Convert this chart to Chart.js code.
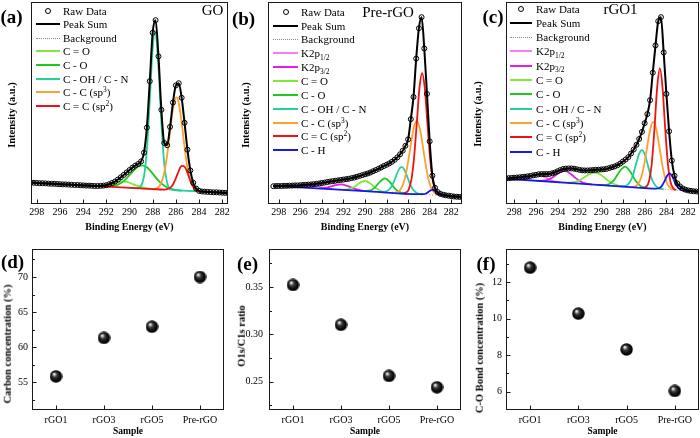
<!DOCTYPE html>
<html><head><meta charset="utf-8">
<script src="https://cdn.jsdelivr.net/npm/chart.js@4.4.1/dist/chart.umd.min.js"></script>
<style>
html,body{margin:0;padding:0;background:#fff;}
#fig{position:relative;width:700px;height:438px;overflow:hidden;background:#fff;font-family:'Liberation Serif','Times New Roman',serif;color:#000;}
canvas{position:absolute;}
.t{position:absolute;white-space:nowrap;line-height:1;transform:translate(-50%,-50%);}
.rot{transform:translate(-50%,-50%) rotate(-90deg);font-weight:bold;font-size:10.5px;}
.lab{font-weight:bold;font-size:19px;}
.ttl{font-size:15px;}
.leg{position:absolute;white-space:nowrap;font-size:11px;height:14px;line-height:14px;}
.leg .s{display:inline-block;position:relative;height:14px;vertical-align:top;}
.leg sub,.leg sup{font-size:7.5px;vertical-align:baseline;position:relative;line-height:0;}
.leg sub{top:2.5px;}
.leg sup{top:-4px;}
</style></head>
<body><div id="fig"></div>
<script>
// ---------------- DATA ----------------
const gridEnergy = [298.5,298.25,298,297.75,297.5,297.25,297,296.75,296.5,296.25,296,295.75,295.5,295.25,295,294.75,294.5,294.25,294,293.75,293.5,293.25,293,292.75,292.5,292.25,292,291.75,291.5,291.25,291,290.75,290.5,290.25,290,289.75,289.5,289.25,289,288.75,288.5,288.25,288,287.75,287.5,287.25,287,286.75,286.5,286.25,286,285.75,285.5,285.25,285,284.75,284.5,284.25,284,283.75,283.5,283.25,283,282.75,282.5,282.25,282,281.75,281.5,281.25,281];
const gridEnergyC = [298.75].concat(gridEnergy);

// (a) GO
const goRaw = [0.106,0.105,0.104,0.103,0.103,0.102,0.101,0.100,0.100,0.099,0.098,0.097,0.097,0.096,0.095,0.094,0.094,0.093,0.092,0.091,0.091,0.090,0.089,0.089,0.090,0.091,0.093,0.098,0.104,0.111,0.121,0.132,0.144,0.156,0.168,0.180,0.190,0.198,0.211,0.254,0.378,0.608,0.848,0.910,0.731,0.466,0.302,0.291,0.382,0.502,0.587,0.598,0.526,0.402,0.269,0.166,0.105,0.076,0.065,0.062,0.061,0.060,0.059,0.058,0.058,0.057,0.056,0.055,0.055,0.054,0.053];
const goBg = [[298.5,0.1055],[281,0.053]];
const goCdO = [[294,0.092],[293,0.0894],[292.5,0.0894],[292,0.0923],[291.5,0.0995],[291,0.1082],[290.75,0.111],[290.5,0.1115],[290.25,0.1095],[290,0.1052],[289.5,0.0935],[289,0.0833],[288.5,0.0774],[288,0.0744]];
const goCO = [[293,0.089],[292.5,0.0877],[292,0.0869],[291.5,0.0885],[291,0.0957],[290.5,0.1135],[290,0.1427],[289.5,0.1746],[289.25,0.186],[288.9,0.1917],[288.5,0.1816],[288.25,0.168],[288,0.1507],[287.5,0.1157],[287,0.0899],[286.5,0.0759],[286,0.0695],[285.5,0.0666]];
const goCOH = [[290,0.080],[289.5,0.0788],[289.25,0.0798],[289,0.0902],[288.75,0.1367],[288.5,0.27],[288.25,0.5142],[288,0.7705],[287.8,0.8534],[287.5,0.6768],[287.25,0.4028],[287,0.1981],[286.75,0.1046],[286.5,0.076],[286.25,0.0697],[286,0.068],[285,0.065],[284,0.062]];
const goCC = [[288,0.0747],[287.75,0.0764],[287.5,0.0839],[287.25,0.1059],[287,0.1553],[286.75,0.2421],[286.5,0.3585],[286.25,0.4694],[285.95,0.5279],[285.75,0.4998],[285.5,0.4035],[285.25,0.2822],[285,0.1797],[284.75,0.1145],[284.5,0.0816],[284.25,0.0682],[284,0.0633],[283.75,0.0616],[283,0.059]];
const goCdC = [[298.5,0.1055],[292,0.086],[288,0.074],[287,0.0716],[286.75,0.0731],[286.5,0.0796],[286.25,0.0966],[286,0.1271],[285.75,0.1642],[285.5,0.1889],[285.25,0.1851],[285,0.1546],[284.75,0.1162],[284.5,0.0866],[284.25,0.0708],[284,0.0641],[283.75,0.0617],[283,0.059],[281,0.053]];

// (b) Pre-rGO
const preRaw = [0.088,0.089,0.089,0.089,0.090,0.090,0.091,0.091,0.092,0.092,0.093,0.094,0.095,0.096,0.097,0.098,0.100,0.102,0.104,0.106,0.109,0.111,0.113,0.115,0.117,0.119,0.121,0.123,0.125,0.128,0.131,0.135,0.139,0.143,0.147,0.151,0.156,0.162,0.168,0.174,0.181,0.188,0.194,0.201,0.209,0.219,0.231,0.246,0.264,0.288,0.320,0.420,0.530,0.720,0.870,0.925,0.770,0.545,0.310,0.140,0.080,0.059,0.050,0.046,0.043,0.041,0.039,0.037,0.036,0.035,0.035];
const preBg = [[298.5,0.0903],[281,0.036]];
const preK12 = [[297,0.0861],[296.5,0.0862],[296,0.088],[295.5,0.0909],[295,0.0914],[294.5,0.0878],[294,0.0818],[293.5,0.0769],[293,0.0737]];
const preK32 = [[294.2,0.078],[293.7,0.0799],[293.2,0.0857],[292.7,0.0937],[292.2,0.0967],[291.7,0.0906],[291.2,0.0795],[290.7,0.0706],[290.2,0.0656]];
const preCdO = [[292,0.0709],[291.5,0.0736],[291,0.085],[290.5,0.1042],[290,0.1139],[289.5,0.1011],[289,0.0788],[288.5,0.0643],[288,0.0585]];
const preCO = [[290.15,0.0647],[289.65,0.0658],[289.15,0.0785],[288.65,0.1085],[288.15,0.1272],[287.65,0.1054],[287.15,0.0723],[286.65,0.0565],[286.15,0.0523]];
const preCOH = [[288.6,0.0598],[288.1,0.0612],[287.6,0.0814],[287.35,0.107],[287.1,0.1409],[286.85,0.1715],[286.6,0.1834],[286.35,0.1699],[286.1,0.1378],[285.85,0.1024],[285.6,0.0752],[285.1,0.0519],[284.6,0.0474]];
const preCC = [[287.2,0.0572],[286.95,0.0611],[286.7,0.0731],[286.45,0.1003],[286.2,0.1506],[285.95,0.2255],[285.7,0.312],[285.45,0.3836],[285.2,0.4111],[284.95,0.3821],[284.7,0.3089],[284.45,0.2208],[284.2,0.1445],[283.95,0.0925],[283.7,0.0638],[283.45,0.0503],[283.2,0.0448]];
const preCdC = [[286.45,0.0537],[286.2,0.0566],[285.95,0.0716],[285.7,0.119],[285.45,0.2276],[285.2,0.3977],[284.95,0.5721],[284.7,0.6475],[284.45,0.5705],[284.2,0.3946],[283.95,0.2221],[283.7,0.1128],[283.45,0.0638],[283.2,0.0473],[282.95,0.0428]];
const preCH = [[298.5,0.0903],[290,0.0639],[285,0.0484],[284.5,0.0494],[284.25,0.0551],[284,0.0647],[283.75,0.0696],[283.5,0.0632],[283.25,0.052],[283,0.0447],[282.5,0.0407],[281,0.036]];

// (c) rGO1
const rgoRaw = [0.126,0.128,0.129,0.130,0.131,0.132,0.134,0.135,0.137,0.139,0.142,0.144,0.147,0.148,0.148,0.148,0.149,0.152,0.156,0.162,0.168,0.173,0.175,0.176,0.176,0.175,0.172,0.169,0.167,0.166,0.166,0.167,0.168,0.169,0.170,0.171,0.172,0.174,0.178,0.182,0.186,0.192,0.200,0.210,0.220,0.232,0.250,0.270,0.293,0.322,0.357,0.400,0.445,0.514,0.650,0.785,0.905,0.925,0.750,0.545,0.360,0.215,0.140,0.102,0.087,0.077,0.071,0.067,0.065,0.063,0.062,0.061];
const rgoBg = [[298.75,0.1249],[281,0.061]];
const rgoK12 = [[297.8,0.122],[297.3,0.1227],[296.8,0.1287],[296.3,0.1394],[295.8,0.1443],[295.3,0.1358],[294.8,0.1215],[294.3,0.1119],[293.8,0.1076]];
const rgoK32 = [[295.85,0.1149],[295.35,0.1153],[294.85,0.1209],[294.35,0.1357],[293.85,0.155],[293.35,0.1635],[292.85,0.1514],[292.35,0.1285],[291.85,0.1101],[291.35,0.1009],[290.85,0.0969]];
const rgoCdO = [[293.05,0.1057],[292.55,0.1077],[292.05,0.1158],[291.55,0.1314],[291.05,0.1486],[290.55,0.1554],[290.05,0.145],[289.55,0.1242],[289.05,0.105],[288.55,0.0933],[288.05,0.0877]];
const rgoCO = [[290.3,0.0946],[289.8,0.0936],[289.3,0.0979],[288.8,0.1197],[288.3,0.1617],[287.8,0.1855],[287.3,0.1581],[286.8,0.1125],[286.3,0.0871],[285.8,0.0792]];
const rgoCOH = [[288.25,0.0874],[287.75,0.0898],[287.25,0.1193],[287,0.1564],[286.75,0.2054],[286.5,0.2495],[286.25,0.2669],[286,0.2477],[285.75,0.2018],[285.5,0.151],[285.25,0.1121],[284.75,0.079],[284.25,0.073]];
const rgoCC = [[287.2,0.0842],[286.95,0.0859],[286.7,0.0931],[286.45,0.1129],[286.2,0.1543],[285.95,0.2217],[285.7,0.3056],[285.45,0.3776],[285.2,0.4061],[284.95,0.3758],[284.7,0.302],[284.45,0.2163],[284.2,0.1471],[283.95,0.1039],[283.7,0.0823],[283.45,0.0733],[283.2,0.0698]];
const rgoCdC = [[286.1,0.0804],[285.85,0.0856],[285.6,0.1127],[285.35,0.1979],[285.1,0.3697],[284.85,0.5752],[284.6,0.671],[284.35,0.5734],[284.1,0.3661],[283.85,0.1925],[283.6,0.1055],[283.35,0.0766],[283.1,0.0696]];
const rgoCH = [[298.75,0.1249],[292,0.1006],[286,0.079],[284.95,0.0758],[284.7,0.0779],[284.45,0.0873],[284.2,0.1096],[283.95,0.1383],[283.7,0.1517],[283.45,0.1365],[283.2,0.106],[282.95,0.0819],[282.7,0.0707],[282.45,0.0668],[281,0.061]];

// tick labels
const xpsTicks = [298,296,294,292,290,288,286,284,282];
const xpsTickLabels = ['298','296','294','292','290','288','286','284','282'];

// (d)(e)(f)
const samples = ['rGO1','rGO3','rGO5','Pre-rGO'];
const carbonConc = [55.8, 61.3, 62.9, 70.0];
const o1sC1sRatio = [0.352, 0.310, 0.256, 0.244];
const coBondConc = [12.78, 10.27, 8.31, 6.04];
const dTicks = [52.5,55,57.5,60,62.5,65,67.5,70,72.5];
const dTickLabels = ['','55','','60','','65','','70',''];
const eTicks = [0.225,0.25,0.275,0.30,0.325,0.35,0.375];
const eTickLabels = ['','0.25','','0.30','','0.35',''];
const fTicks = [6,7,8,9,10,11,12,13];
const fTickLabels = ['6','','8','','10','','12',''];

// ---------------- STYLE / BUILD ----------------
const COL = {lime:'#7ee83c', green:'#1ec81e', teal:'#22d09e', orange:'#ffa030', red:'#f01212', blue:'#1818e8', pink:'#f47ff0', magenta:'#e41ee4'};
Chart.defaults.font.family = "'Liberation Serif','Times New Roman',serif";
Chart.defaults.color = '#000';
Chart.defaults.font.size = 10;

const fig = document.getElementById('fig');
function mkCanvas(left, top, w, h) {
  const c = document.createElement('canvas');
  c.width = w; c.height = h;
  c.style.left = left + 'px'; c.style.top = top + 'px';
  c.style.width = w + 'px'; c.style.height = h + 'px';
  fig.appendChild(c);
  return c;
}
function addText(cls, html, cx, cy) {
  const d = document.createElement('div');
  d.className = 't ' + cls; d.innerHTML = html;
  d.style.left = cx + 'px'; d.style.top = cy + 'px';
  fig.appendChild(d);
}
const pairs = arr => arr.map(p => ({x: p[0], y: p[1]}));
const toXY = (xs, ys) => xs.map((x, i) => ({x: x, y: ys[i]}));

const frameTicks = {
  id: 'frameTicks',
  afterDraw(chart) {
    const {ctx, chartArea: a} = chart;
    ctx.save();
    ctx.strokeStyle = '#1a1a1a';
    ctx.lineWidth = 1;
    const L = Math.round(a.left) + 0.5, T = Math.round(a.top) + 0.5, R = Math.round(a.right) - 0.5, B = Math.round(a.bottom) - 0.5;
    ctx.strokeRect(L, T, R - L, B - T);
    ctx.beginPath();
    const xs = chart.scales.x;
    xs.ticks.forEach((t, i) => {
      const p = Math.round(xs.getPixelForTick(i)) + 0.5;
      ctx.moveTo(p, B); ctx.lineTo(p, B - 4);
    });
    const ys = chart.scales.y;
    if (ys.options.display) {
      ys.ticks.forEach((t, i) => {
        const p = Math.round(ys.getPixelForTick(i)) + 0.5;
        const len = t.label ? 4 : 2.5;
        ctx.moveTo(L, p); ctx.lineTo(L + len, p);
      });
    }
    ctx.stroke();
    ctx.restore();
  }
};

function buildLegend(lg, entries) {
  entries.forEach((e, i) => {
    const row = document.createElement('div');
    row.className = 'leg';
    row.style.left = lg.left + 'px';
    row.style.top = (lg.y0 + i * lg.dy - 7) + 'px';
    const s = document.createElement('span');
    s.className = 's';
    s.style.width = lg.w + 'px';
    const m = document.createElement('span');
    m.style.position = 'absolute';
    if (e.kind === 'raw') {
      m.style.left = (lg.w / 2 - 3) + 'px'; m.style.top = '4px';
      m.style.width = '4px'; m.style.height = '4px';
      m.style.border = '1.2px solid #000'; m.style.borderRadius = '50%';
    } else if (e.kind === 'dot') {
      m.style.left = '0px'; m.style.top = '7px'; m.style.width = lg.w + 'px';
      m.style.borderTop = '1px dotted #8a8a8a';
    } else {
      m.style.left = '0px'; m.style.top = '6px'; m.style.width = lg.w + 'px';
      m.style.height = '2px'; m.style.background = e.color;
    }
    s.appendChild(m);
    row.appendChild(s);
    const tx = document.createElement('span');
    tx.style.marginLeft = lg.gap + 'px';
    tx.innerHTML = e.name;
    row.appendChild(tx);
    fig.appendChild(row);
  });
}

function xpsChart(cfg) {
  const canvas = mkCanvas(cfg.left, 0, cfg.width, 233);
  const datasets = [];
  datasets.push({label: 'Raw Data', data: toXY(cfg.energy, cfg.raw), showLine: false, pointRadius: 2.5, pointBorderWidth: 1, pointBorderColor: '#000', pointBackgroundColor: 'rgba(0,0,0,0)', order: 0});
  datasets.push({label: 'Peak Sum', data: toXY(cfg.energy, cfg.raw), showLine: true, borderColor: '#000', borderWidth: 2, pointRadius: 0, tension: 0.4, cubicInterpolationMode: 'monotone', order: 1});
  datasets.push({label: 'Background', data: pairs(cfg.bg), showLine: true, borderColor: '#8a8a8a', borderWidth: 1, borderDash: [1, 2], pointRadius: 0, order: 99});
  const n = cfg.comps.length;
  cfg.comps.forEach((c, k) => datasets.push({label: c.name.replace(/<[^>]+>/g, ''), data: pairs(c.data), showLine: true, borderColor: c.color, borderWidth: 1.8, pointRadius: 0, tension: 0.4, cubicInterpolationMode: 'monotone', order: 2 + (n - 1 - k)}));
  new Chart(canvas, {
    type: 'scatter',
    data: {datasets},
    plugins: [frameTicks],
    options: {
      responsive: false, animation: false, devicePixelRatio: 1,
      layout: {padding: cfg.pad, autoPadding: false},
      plugins: {legend: {display: false}, tooltip: {enabled: false}},
      scales: {
        x: {type: 'linear', reverse: true, min: cfg.range[0], max: cfg.range[1],
            grid: {display: false, drawTicks: false}, border: {display: false},
            afterBuildTicks: s => { s.ticks = xpsTicks.map(v => ({value: v})); },
            ticks: {autoSkip: false, maxRotation: 0, padding: 2.5, font: {size: 10}, callback: (v, i) => xpsTickLabels[i]},
            title: {display: true, text: 'Binding Energy (eV)', font: {size: 10, weight: 'bold'}, padding: 0},
            afterFit: s => { s.height = 29; s.paddingLeft = 0; s.paddingRight = 0; }},
        y: {display: false, min: 0, max: 1}
      }
    }
  });
  const entries = [{kind: 'raw', name: 'Raw Data'}, {kind: 'line', color: '#000', name: 'Peak Sum'}, {kind: 'dot', name: 'Background'}]
    .concat(cfg.comps.map(c => ({kind: 'line', color: c.color, name: c.name})));
  buildLegend(cfg.legend, entries);
}

function makeSphere(d) {
  const c = document.createElement('canvas'); c.width = d; c.height = d;
  const g = c.getContext('2d');
  const r = d / 2;
  const grad = g.createRadialGradient(r * 0.68, r * 0.6, 0.2, r, r, r);
  grad.addColorStop(0, '#ffffff');
  grad.addColorStop(0.13, '#c4c4c4');
  grad.addColorStop(0.36, '#3a3a3a');
  grad.addColorStop(0.72, '#0b0b0b');
  grad.addColorStop(1, '#000000');
  g.fillStyle = grad;
  g.beginPath(); g.arc(r, r, r - 0.3, 0, Math.PI * 2); g.fill();
  return c;
}
const sphere = makeSphere(13);

function sampleChart(cfg) {
  const canvas = mkCanvas(cfg.left, 240, cfg.width, 197);
  new Chart(canvas, {
    type: 'line',
    data: {labels: samples, datasets: [{label: cfg.label, data: cfg.values, showLine: false, pointStyle: sphere, pointRadius: 6.5, order: 0}]},
    plugins: [frameTicks],
    options: {
      responsive: false, animation: false, devicePixelRatio: 1,
      layout: {padding: {left: 0, right: cfg.padR, top: 9, bottom: 0}, autoPadding: false},
      plugins: {legend: {display: false}, tooltip: {enabled: false}},
      scales: {
        x: {type: 'category', offset: true, grid: {display: false, drawTicks: false}, border: {display: false},
            ticks: {padding: 4, font: {size: 10}, maxRotation: 0, autoSkip: false},
            title: {display: true, text: 'Sample', font: {size: 9.5, weight: 'bold'}, padding: 0},
            afterFit: s => { s.height = 27; s.paddingLeft = 0; s.paddingRight = 0; }},
        y: {min: cfg.min, max: cfg.max, grid: {display: false, drawTicks: false}, border: {display: false},
            afterBuildTicks: s => { s.ticks = cfg.ticks.map(v => ({value: v})); },
            ticks: {padding: cfg.tickPad, font: {size: 10}, autoSkip: false, callback: (v, i) => cfg.tickLabels[i]},
            afterFit: s => { s.width = cfg.yWidth; s.paddingTop = 0; s.paddingBottom = 0; }}
      }
    }
  });
}

// ---------------- PANELS ----------------
xpsChart({left: 0, width: 231, range: [281.5, 298.5], pad: {left: 31, right: 3, top: 2, bottom: 0},
  energy: gridEnergy, raw: goRaw, bg: goBg,
  comps: [
    {name: 'C = O', color: COL.lime, data: goCdO},
    {name: 'C - O', color: COL.green, data: goCO},
    {name: 'C - OH / C - N', color: COL.teal, data: goCOH},
    {name: 'C - C (sp<sup>3</sup>)', color: COL.orange, data: goCC},
    {name: 'C = C (sp<sup>2</sup>)', color: COL.red, data: goCdC}
  ],
  legend: {left: 36, w: 24, gap: 3, y0: 10.5, dy: 13.6}});

xpsChart({left: 266, width: 199, range: [281, 299], pad: {left: 2, right: 3, top: 2, bottom: 0},
  energy: gridEnergy, raw: preRaw, bg: preBg,
  comps: [
    {name: 'K2p<sub>1/2</sub>', color: COL.pink, data: preK12},
    {name: 'K2p<sub>3/2</sub>', color: COL.magenta, data: preK32},
    {name: 'C = O', color: COL.lime, data: preCdO},
    {name: 'C - O', color: COL.green, data: preCO},
    {name: 'C - OH / C - N', color: COL.teal, data: preCOH},
    {name: 'C - C (sp<sup>3</sup>)', color: COL.orange, data: preCC},
    {name: 'C = C (sp<sup>2</sup>)', color: COL.red, data: preCdC},
    {name: 'C - H', color: COL.blue, data: preCH}
  ],
  legend: {left: 273, w: 25, gap: 3, y0: 11.7, dy: 13.85}});

xpsChart({left: 503, width: 197, range: [281, 298.75], pad: {left: 3, right: 1, top: 2, bottom: 0},
  energy: gridEnergyC, raw: rgoRaw, bg: rgoBg,
  comps: [
    {name: 'K2p<sub>1/2</sub>', color: COL.pink, data: rgoK12},
    {name: 'K2p<sub>3/2</sub>', color: COL.magenta, data: rgoK32},
    {name: 'C = O', color: COL.lime, data: rgoCdO},
    {name: 'C - O', color: COL.green, data: rgoCO},
    {name: 'C - OH / C - N', color: COL.teal, data: rgoCOH},
    {name: 'C - C (sp<sup>3</sup>)', color: COL.orange, data: rgoCC},
    {name: 'C = C (sp<sup>2</sup>)', color: COL.red, data: rgoCdC},
    {name: 'C - H', color: COL.blue, data: rgoCH}
  ],
  legend: {left: 510, w: 22, gap: 4, y0: 8.5, dy: 14.3}});

sampleChart({left: 0, width: 227, padR: 3, yWidth: 32, tickPad: 4, min: 51, max: 74, ticks: dTicks, tickLabels: dTickLabels, values: carbonConc, label: 'Carbon concentration (%)'});
sampleChart({left: 230, width: 234, padR: 3, yWidth: 39, tickPad: 6, min: 0.22, max: 0.39, ticks: eTicks, tickLabels: eTickLabels, values: o1sC1sRatio, label: 'O1s/C1s ratio'});
sampleChart({left: 466, width: 234, padR: 1, yWidth: 40, tickPad: 4, min: 5, max: 13.8, ticks: fTicks, tickLabels: fTickLabels, values: coBondConc, label: 'C-O Bond concentration (%)'});

// ---------------- TEXT OVERLAYS ----------------
addText('lab', '(a)', 11.5, 16);
addText('lab', '(b)', 243.5, 17.5);
addText('lab', '(c)', 493, 16);
addText('lab', '(d)', 12.5, 261);
addText('lab', '(e)', 247.5, 263);
addText('lab', '(f)', 486, 263);
addText('ttl', 'GO', 212.5, 10);
addText('ttl', 'Pre-rGO', 388, 11.7);
addText('ttl', 'rGO1', 620.5, 8.5);
addText('rot', 'Intensity (a.u.)', 12, 115);
addText('rot', 'Intensity (a.u.)', 246, 115);
addText('rot', 'Intensity (a.u.)', 478, 114);
addText('rot', 'Carbon concentration (%)', 7.5, 344);
addText('rot', 'O1s/C1s ratio', 241.5, 336);
addText('rot', 'C-O Bond concentration (%)', 480, 348);
</script>
</body></html>
